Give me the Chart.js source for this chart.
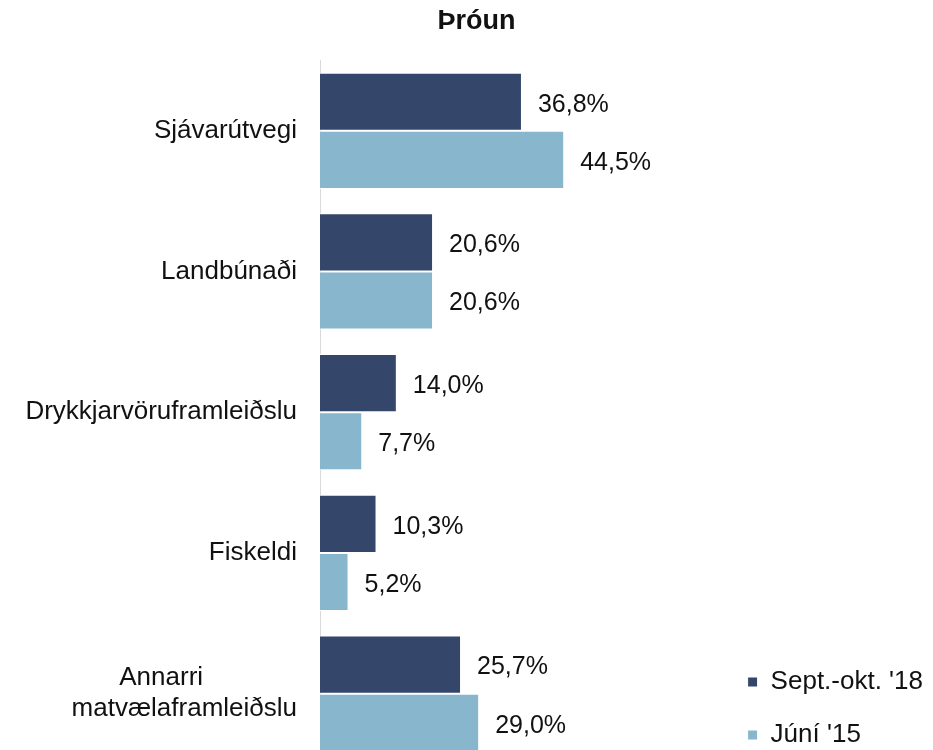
<!DOCTYPE html>
<html>
<head>
<meta charset="utf-8">
<script src="https://cdn.jsdelivr.net/npm/chart.js@4"></script>
<style>
  html, body { margin: 0; padding: 0; background: #fff; overflow: hidden; }
  canvas { display: block; }
</style>
</head>
<body>
<canvas id="chart" width="933" height="765"></canvas>
<script>
/* Þróun — share by sector, two survey rounds */

const CATEGORIES = [
  "Sjávarútvegi",
  "Landbúnaði",
  "Drykkjarvöruframleiðslu",
  "Fiskeldi",
  ["Annarri\u00a0\u00a0\u00a0\u00a0\u00a0\u00a0\u00a0\u00a0\u00a0\u00a0\u00a0\u00a0\u00a0", "matvælaframleiðslu"],
];
const SERIES_NAMES = ["Sept.-okt. '18", "Júní '15"];
const SEPT_OKT_18 = [36.8, 20.6, 14.0, 10.3, 25.7];
const JUNI_15 = [44.5, 20.6, 7.7, 5.2, 29.0];

const DARK = "#34466a";
const LIGHT = "#88b6cd";
const TEXT = "#111111";
const FONT = "Arial, 'Liberation Sans', sans-serif";

const valueLabels = {
  id: "valueLabels",
  afterDatasetsDraw(chart) {
    const ctx = chart.ctx;
    ctx.save();
    ctx.font = `25px ${FONT}`;
    ctx.fillStyle = TEXT;
    ctx.textAlign = "left";
    ctx.textBaseline = "middle";
    chart.data.datasets.forEach((ds, i) => {
      chart.getDatasetMeta(i).data.forEach((bar, j) => {
        const txt = ds.data[j].toFixed(1).replace(".", ",") + "%";
        ctx.fillText(txt, bar.x + 16, bar.y + 3);
      });
    });
    ctx.restore();
  },
};

// nudge the legend a little lower, like the original sits near the bottom edge
const legendNudge = {
  id: "legendNudge",
  afterLayout(chart) {
    chart.legend.top += 11;
    chart.legend.bottom += 11;
  },
};

new Chart(document.getElementById("chart"), {
  type: "bar",
  data: {
    labels: CATEGORIES,
    datasets: [
      { label: SERIES_NAMES[0], data: SEPT_OKT_18, backgroundColor: DARK, borderColor: "#ffffff", borderWidth: 1 },
      { label: SERIES_NAMES[1], data: JUNI_15, backgroundColor: LIGHT, borderColor: "#ffffff", borderWidth: 1 },
    ],
  },
  options: {
    indexAxis: "y",
    responsive: false,
    animation: false,
    layout: { padding: { left: 20, right: 0, top: 0, bottom: 1 } },
    datasets: { bar: { categoryPercentage: 0.826, barPercentage: 1.0 } },
    plugins: {
      title: {
        display: true,
        text: "Þróun",
        color: TEXT,
        font: { family: FONT, size: 27, weight: "bold" },
        padding: { top: 5, bottom: 23 },
      },
      legend: {
        position: "right",
        align: "end",
        labels: {
          color: TEXT,
          font: { family: FONT, size: 26 },
          boxWidth: 10,
          boxHeight: 10,
          padding: 27,
        },
      },
      tooltip: { enabled: false },
    },
    scales: {
      x: {
        display: false,
        min: 0,
        max: 73,
      },
      y: {
        afterFit(scale) {
          scale.width = 300;
          scale.paddingTop = 0;
          scale.paddingBottom = 0;
        },
        grid: { display: false, drawTicks: false },
        border: { display: true, color: "#d9d9d9", width: 1 },
        ticks: { color: TEXT, font: { family: FONT, size: 26 }, padding: 23 },
      },
    },
  },
  plugins: [valueLabels, legendNudge],
});
</script>
</body>
</html>
